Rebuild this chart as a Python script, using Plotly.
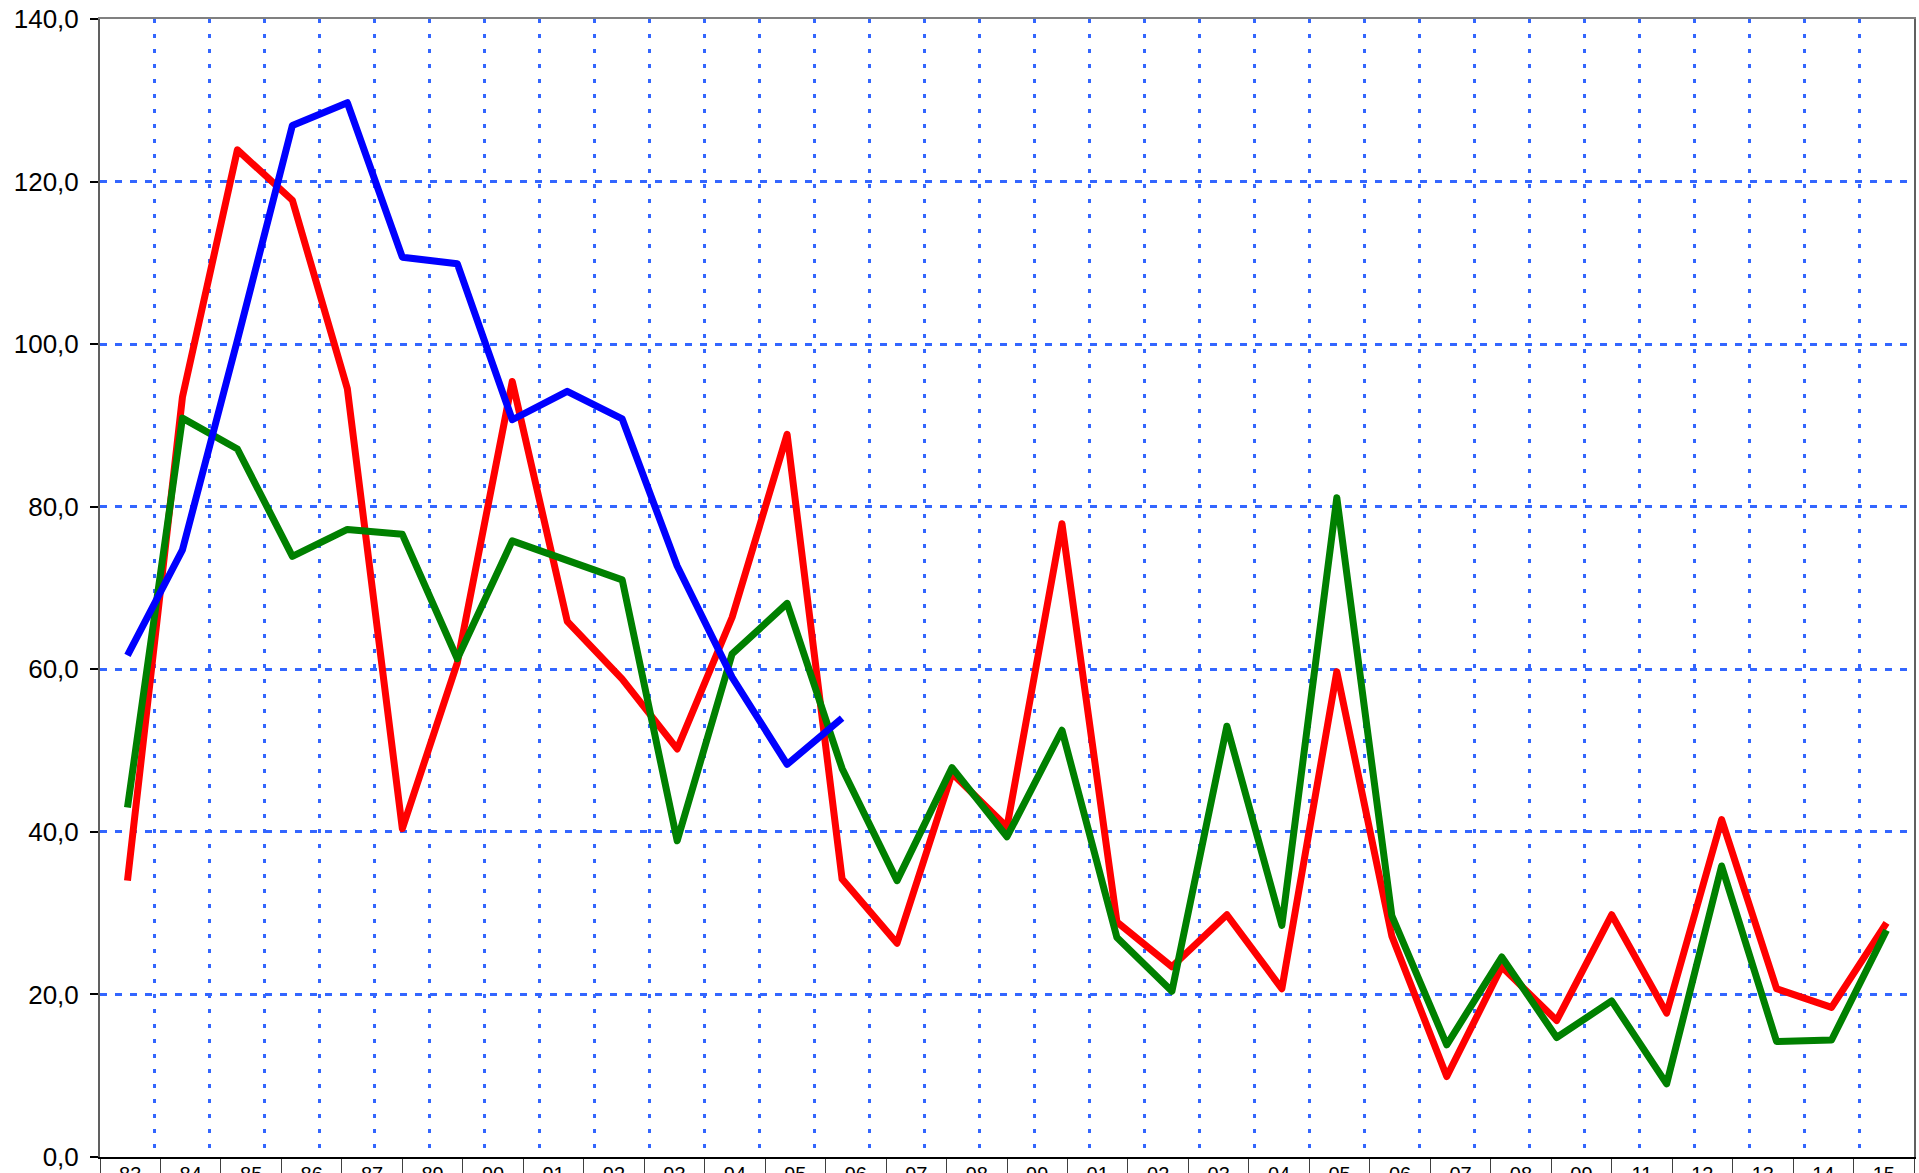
import plotly.graph_objects as go

years = [str(y) for y in range(1983, 2016)]
axis_labels = ["83", "84", "85", "86", "87", "89", "90", "91", "92", "93",
               "94", "95", "96", "97", "98", "99", "01", "02", "03", "04",
               "05", "06", "07", "08", "09", "11", "12", "13", "14", "15"]

blue_vals = [61.7, 74.7, 100.5, 126.9, 129.7, 110.7, 109.9, 90.7, 94.2, 90.8,
             72.7, 59.0, 48.3, 54.0] + [None] * 19
red_vals = [34.0, 93.5, 123.9, 117.7, 94.5, 40.4, 60.8, 95.4, 65.9, 58.8,
            50.2, 66.4, 88.9, 34.2, 26.3, 47.2, 40.6, 77.9, 28.9, 23.4,
            29.8, 20.7, 59.7, 27.2, 9.9, 23.4, 16.8, 29.8, 17.7, 41.5,
            20.7, 18.4, 28.8]
green_vals = [43.0, 90.9, 87.1, 73.9, 77.2, 76.6, 61.3, 75.8, 73.4, 71.0,
              38.9, 61.9, 68.1, 47.8, 34.0, 47.9, 39.4, 52.5, 27.0, 20.4,
              53.0, 28.5, 81.1, 29.7, 13.8, 24.6, 14.7, 19.2, 9.0, 35.8,
              14.2, 14.4, 27.9]

y_ticks = [0, 20, 40, 60, 80, 100, 120, 140]

LW = 7
fig = go.Figure()
fig.add_trace(go.Scatter(x=years, y=red_vals, mode="lines",
                         line=dict(color="#ff0000", width=LW), showlegend=False))
fig.add_trace(go.Scatter(x=years, y=green_vals, mode="lines",
                         line=dict(color="#008000", width=LW), showlegend=False))
fig.add_trace(go.Scatter(x=years, y=blue_vals, mode="lines",
                         line=dict(color="#0000ff", width=LW), showlegend=False))
# invisible trace that carries the label axis categories
fig.add_trace(go.Scatter(x=axis_labels, y=[None] * len(axis_labels), xaxis="x2",
                         mode="lines", showlegend=False, hoverinfo="skip"))

grid_blue = "#3366ff"
fig.update_layout(
    width=1919, height=1173,
    margin=dict(l=100, r=5, t=19, b=16, autoexpand=False),
    paper_bgcolor="white", plot_bgcolor="white",
    separators=", ",
    font=dict(family="Liberation Sans, Arial, sans-serif", color="black"),
    xaxis=dict(type="category", categoryorder="array", categoryarray=years,
               range=[-0.5, len(years) - 0.5], tickson="boundaries",
               showgrid=True, gridcolor=grid_blue, gridwidth=2.5, griddash="4px,11px",
               showticklabels=False, ticks="", automargin=False,
               showline=True, linecolor="#808080", linewidth=2, mirror=True,
               zeroline=False, fixedrange=True),
    xaxis2=dict(type="category", categoryorder="array", categoryarray=axis_labels,
                range=[-0.5, len(axis_labels) - 0.5], overlaying="x", anchor="y",
                side="bottom", tickson="boundaries", showgrid=False,
                ticks="outside", ticklen=18, tickwidth=1.2, tickcolor="#404040",
                tickfont=dict(size=20, family="Liberation Sans, Arial, sans-serif"),
                ticklabelstandoff=-2, automargin=False,
                showline=True, linecolor="black", linewidth=2, zeroline=False,
                fixedrange=True),
    yaxis=dict(range=[0, 140], tickvals=y_ticks, tickformat=".1f",
               showgrid=True, gridcolor=grid_blue, gridwidth=2.5, griddash="7px,8px",
               ticks="outside", ticklen=8, tickwidth=1.5, tickcolor="black",
               tickfont=dict(size=26), ticklabelstandoff=6, automargin=False,
               showline=True, linecolor="#606060", linewidth=2, mirror=True,
               zeroline=False, fixedrange=True),
)

post = ("document.body.style.margin='0';"
        "document.querySelectorAll('.scatterlayer path.js-line').forEach(function(p){"
        "p.style.strokeLinejoin='round';});")
fig.write_html("out.html", post_script=post, config={"displayModeBar": False})
